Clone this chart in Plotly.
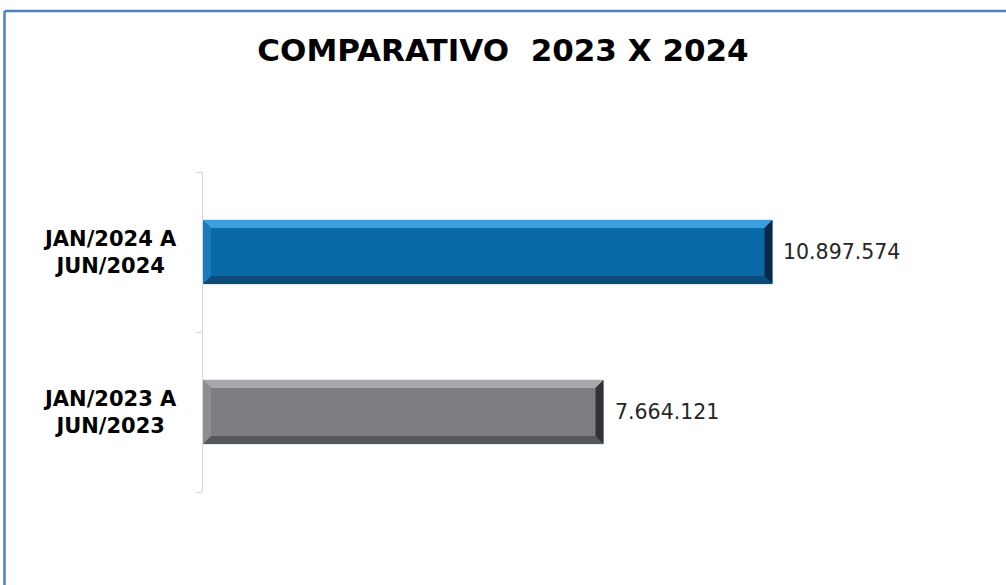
import plotly.graph_objects as go

categories = ["JAN/2023 A<br>JUN/2023", "JAN/2024 A<br>JUN/2024"]
values = [7664121, 10897574]
face_colors = ["#7B7D81", "#0A6AA8"]
top_colors = ["#A6A8AC", "#3A9FDC"]
left_colors = ["#8C8E92", "#1A7BBB"]
bottom_colors = ["#55575B", "#0C4A78"]
right_colors = ["#303236", "#08294A"]
title_text = "COMPARATIVO\u00a0 2023 X 2024"

W, H = 1006, 585
ml, mr, mt, mb = 203, 16, 172, 93
plot_w = W - ml - mr
plot_h = H - mt - mb
xmax = 15.06e6
bargap = 0.6
half = (1 - bargap) / 2

bevel_px = 8
dx = bevel_px * xmax / plot_w
dy = bevel_px * 2 / plot_h

fig = go.Figure()
fig.add_trace(go.Bar(
    x=values, y=categories, orientation="h",
    marker=dict(color=face_colors, line=dict(color="#BFD9EE", width=1)),
    hoverinfo="skip", showlegend=False,
))

shapes = []
for i, v in enumerate(values):
    y0, y1 = i - half, i + half
    def poly(pts, col):
        p = "M " + " L ".join(f"{x},{y}" for x, y in pts) + " Z"
        shapes.append(dict(type="path", path=p, xref="x", yref="y",
                           fillcolor=col, line=dict(width=0), layer="above"))
    poly([(0, y1), (v, y1), (v - dx, y1 - dy), (dx, y1 - dy)], top_colors[i])
    poly([(0, y1), (dx, y1 - dy), (dx, y0 + dy), (0, y0)], left_colors[i])
    poly([(0, y0), (v, y0), (v - dx, y0 + dy), (dx, y0 + dy)], bottom_colors[i])
    poly([(v, y1), (v - dx, y1 - dy), (v - dx, y0 + dy), (v, y0)], right_colors[i])

border_col = "#4F81BD"
def px2xp(px):
    return (px - ml) / plot_w
def py2yp(py):
    return (H - mb - py) / plot_h
shapes.append(dict(type="line", xref="paper", yref="paper",
                   x0=px2xp(4.5), x1=px2xp(W + 5), y0=py2yp(11), y1=py2yp(11),
                   line=dict(color=border_col, width=2.5)))
shapes.append(dict(type="line", xref="paper", yref="paper",
                   x0=px2xp(4.5), x1=px2xp(4.5), y0=py2yp(11), y1=py2yp(H + 5),
                   line=dict(color=border_col, width=2.5)))

annotations = []
for i, v in enumerate(values):
    annotations.append(dict(
        x=v, y=i, xref="x", yref="y", text=f"{v:,}".replace(",", "."),
        showarrow=False, xanchor="left", yanchor="middle", xshift=9,
        font=dict(family="DejaVu Sans", size=20.5, color="#262626"),
    ))
    annotations.append(dict(
        x=0, y=i, xref="paper", yref="y", text=categories[i],
        showarrow=False, xanchor="right", yanchor="middle", xshift=-24,
        align="center",
        font=dict(family="DejaVu Sans", size=21, color="#000000", weight="bold"),
    ))

fig.update_layout(
    width=W, height=H,
    margin=dict(l=ml, r=mr, t=mt, b=mb),
    paper_bgcolor="white", plot_bgcolor="white",
    bargap=bargap,
    title=dict(text=title_text, x=0.5, xanchor="center", xref="container",
               y=1 - 50 / H, yanchor="middle",
               font=dict(family="DejaVu Sans", size=31, color="#000000", weight="bold")),
    xaxis=dict(range=[0, xmax], showgrid=False, zeroline=False, showline=False,
               showticklabels=False, fixedrange=True),
    yaxis=dict(type="category", categoryorder="array", categoryarray=categories,
               range=[-0.5, 1.5], showgrid=False, zeroline=False,
               showline=True, linecolor="#D9D9D9", linewidth=1,
               ticks="outside", tickson="boundaries", ticklen=7, tickcolor="#D9D9D9",
               showticklabels=False, fixedrange=True),
    shapes=shapes, annotations=annotations,
)

fig.write_html("out.html", config={"displayModeBar": False},
               post_script="document.body.style.margin='0';document.body.style.overflow='hidden';")
